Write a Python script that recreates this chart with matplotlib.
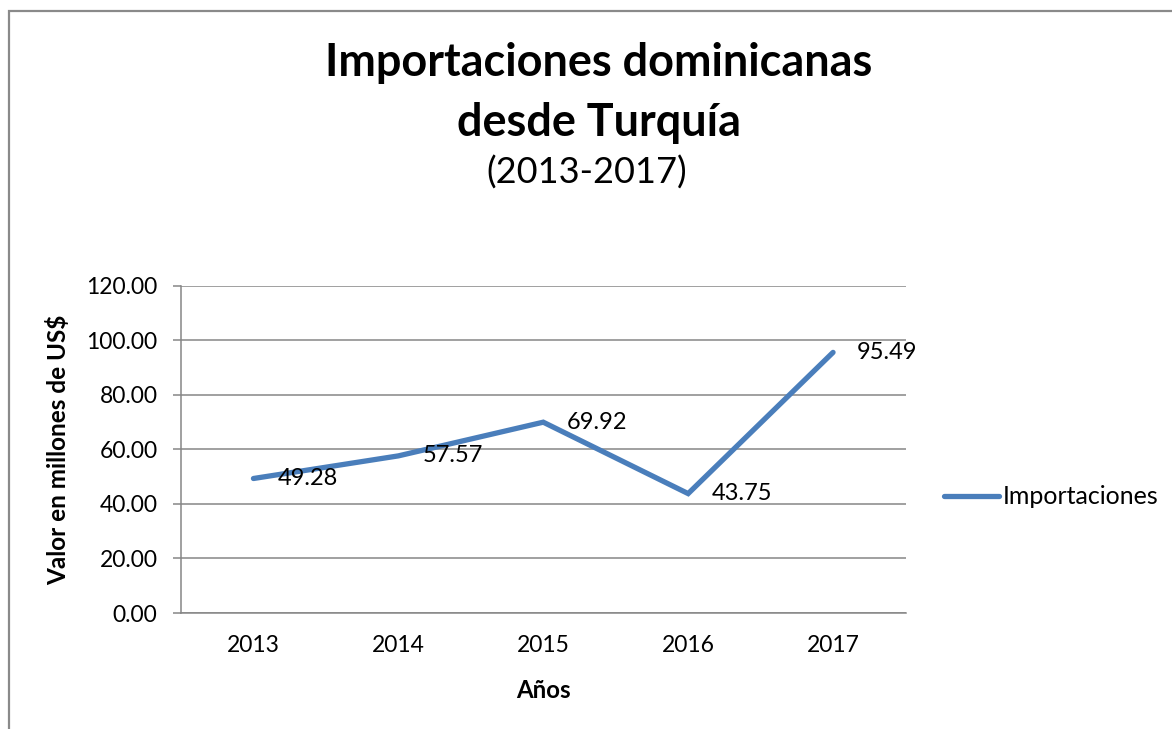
import matplotlib
matplotlib.use("Agg")
import matplotlib.pyplot as plt
from matplotlib.patches import Rectangle

years = ["2013", "2014", "2015", "2016", "2017"]
importaciones = [49.28, 57.57, 69.92, 43.75, 95.49]
yticks = [0, 20, 40, 60, 80, 100, 120]

FONT = "Lato"
plt.rcParams['font.family'] = [FONT, 'DejaVu Sans']

W, H = 1172, 729
fig = plt.figure(figsize=(W / 100, H / 100), dpi=100)

# outer chart border
fig.patches.append(Rectangle((9 / W, -0.05), 1.2, (729 - 11) / H + 0.05,
                             transform=fig.transFigure, fill=False,
                             edgecolor="#8a8a8a", linewidth=1.6))

ax = fig.add_axes([181 / W, (729 - 613) / H, (905.5 - 181) / W, (613 - 285.5) / H])
x = list(range(len(years)))
gray = "#868686"
line_color = "#4A7EBB"

ax.plot(x, importaciones, color=line_color, linewidth=3.8,
        solid_capstyle="round", solid_joinstyle="miter", label="Importaciones", zorder=3)
for xi, v in zip(x, importaciones):
    ax.annotate(f"{v:.2f}", (xi, v), xytext=(24, 0), textcoords="offset pixels",
                ha="left", va="center", fontsize=17, color="black", zorder=4)

ax.set_xlim(-0.5, len(years) - 0.5)
ax.set_ylim(0, 120)
ax.set_yticks(yticks)
ax.set_yticklabels([f"{t:.2f}" for t in yticks])
ax.set_xticks(x)
ax.set_xticklabels(years)
ax.yaxis.grid(True, color=gray, linewidth=1.1)
ax.set_axisbelow(True)
for s in ["top", "right"]:
    ax.spines[s].set_visible(False)
for s in ["left", "bottom"]:
    ax.spines[s].set_color(gray)
    ax.spines[s].set_linewidth(1.1)
ax.tick_params(axis="y", length=6, color=gray, width=1.1, pad=11, labelsize=16.5)
ax.tick_params(axis="x", length=0, pad=16, labelsize=16.5)

fig.text(58 / W, 1 - 450 / H, "Valor en millones de US$", rotation=90,
         ha="center", va="center", fontsize=17.5, fontweight="bold")
fig.text(543 / W, 1 - 690 / H, "Años", ha="center", va="center",
         fontsize=17.3, fontweight="bold")

fig.text(599 / W, 1 - 63 / H, "Importaciones dominicanas", ha="center", va="center",
         fontsize=32.4, fontweight="bold")
fig.text(599 / W, 1 - 123 / H, "desde Turquía", ha="center", va="center",
         fontsize=32.4, fontweight="bold")
fig.text(587 / W, 1 - 173 / H, "(2013-2017)", ha="center", va="center", fontsize=26)

fig.legend(loc="center left", bbox_to_anchor=(944 / W, 1 - 497 / H), frameon=False,
           fontsize=18, handlelength=2.2, handletextpad=0.15, borderaxespad=0,
           borderpad=0)

fig.savefig("out.png", dpi=100)
